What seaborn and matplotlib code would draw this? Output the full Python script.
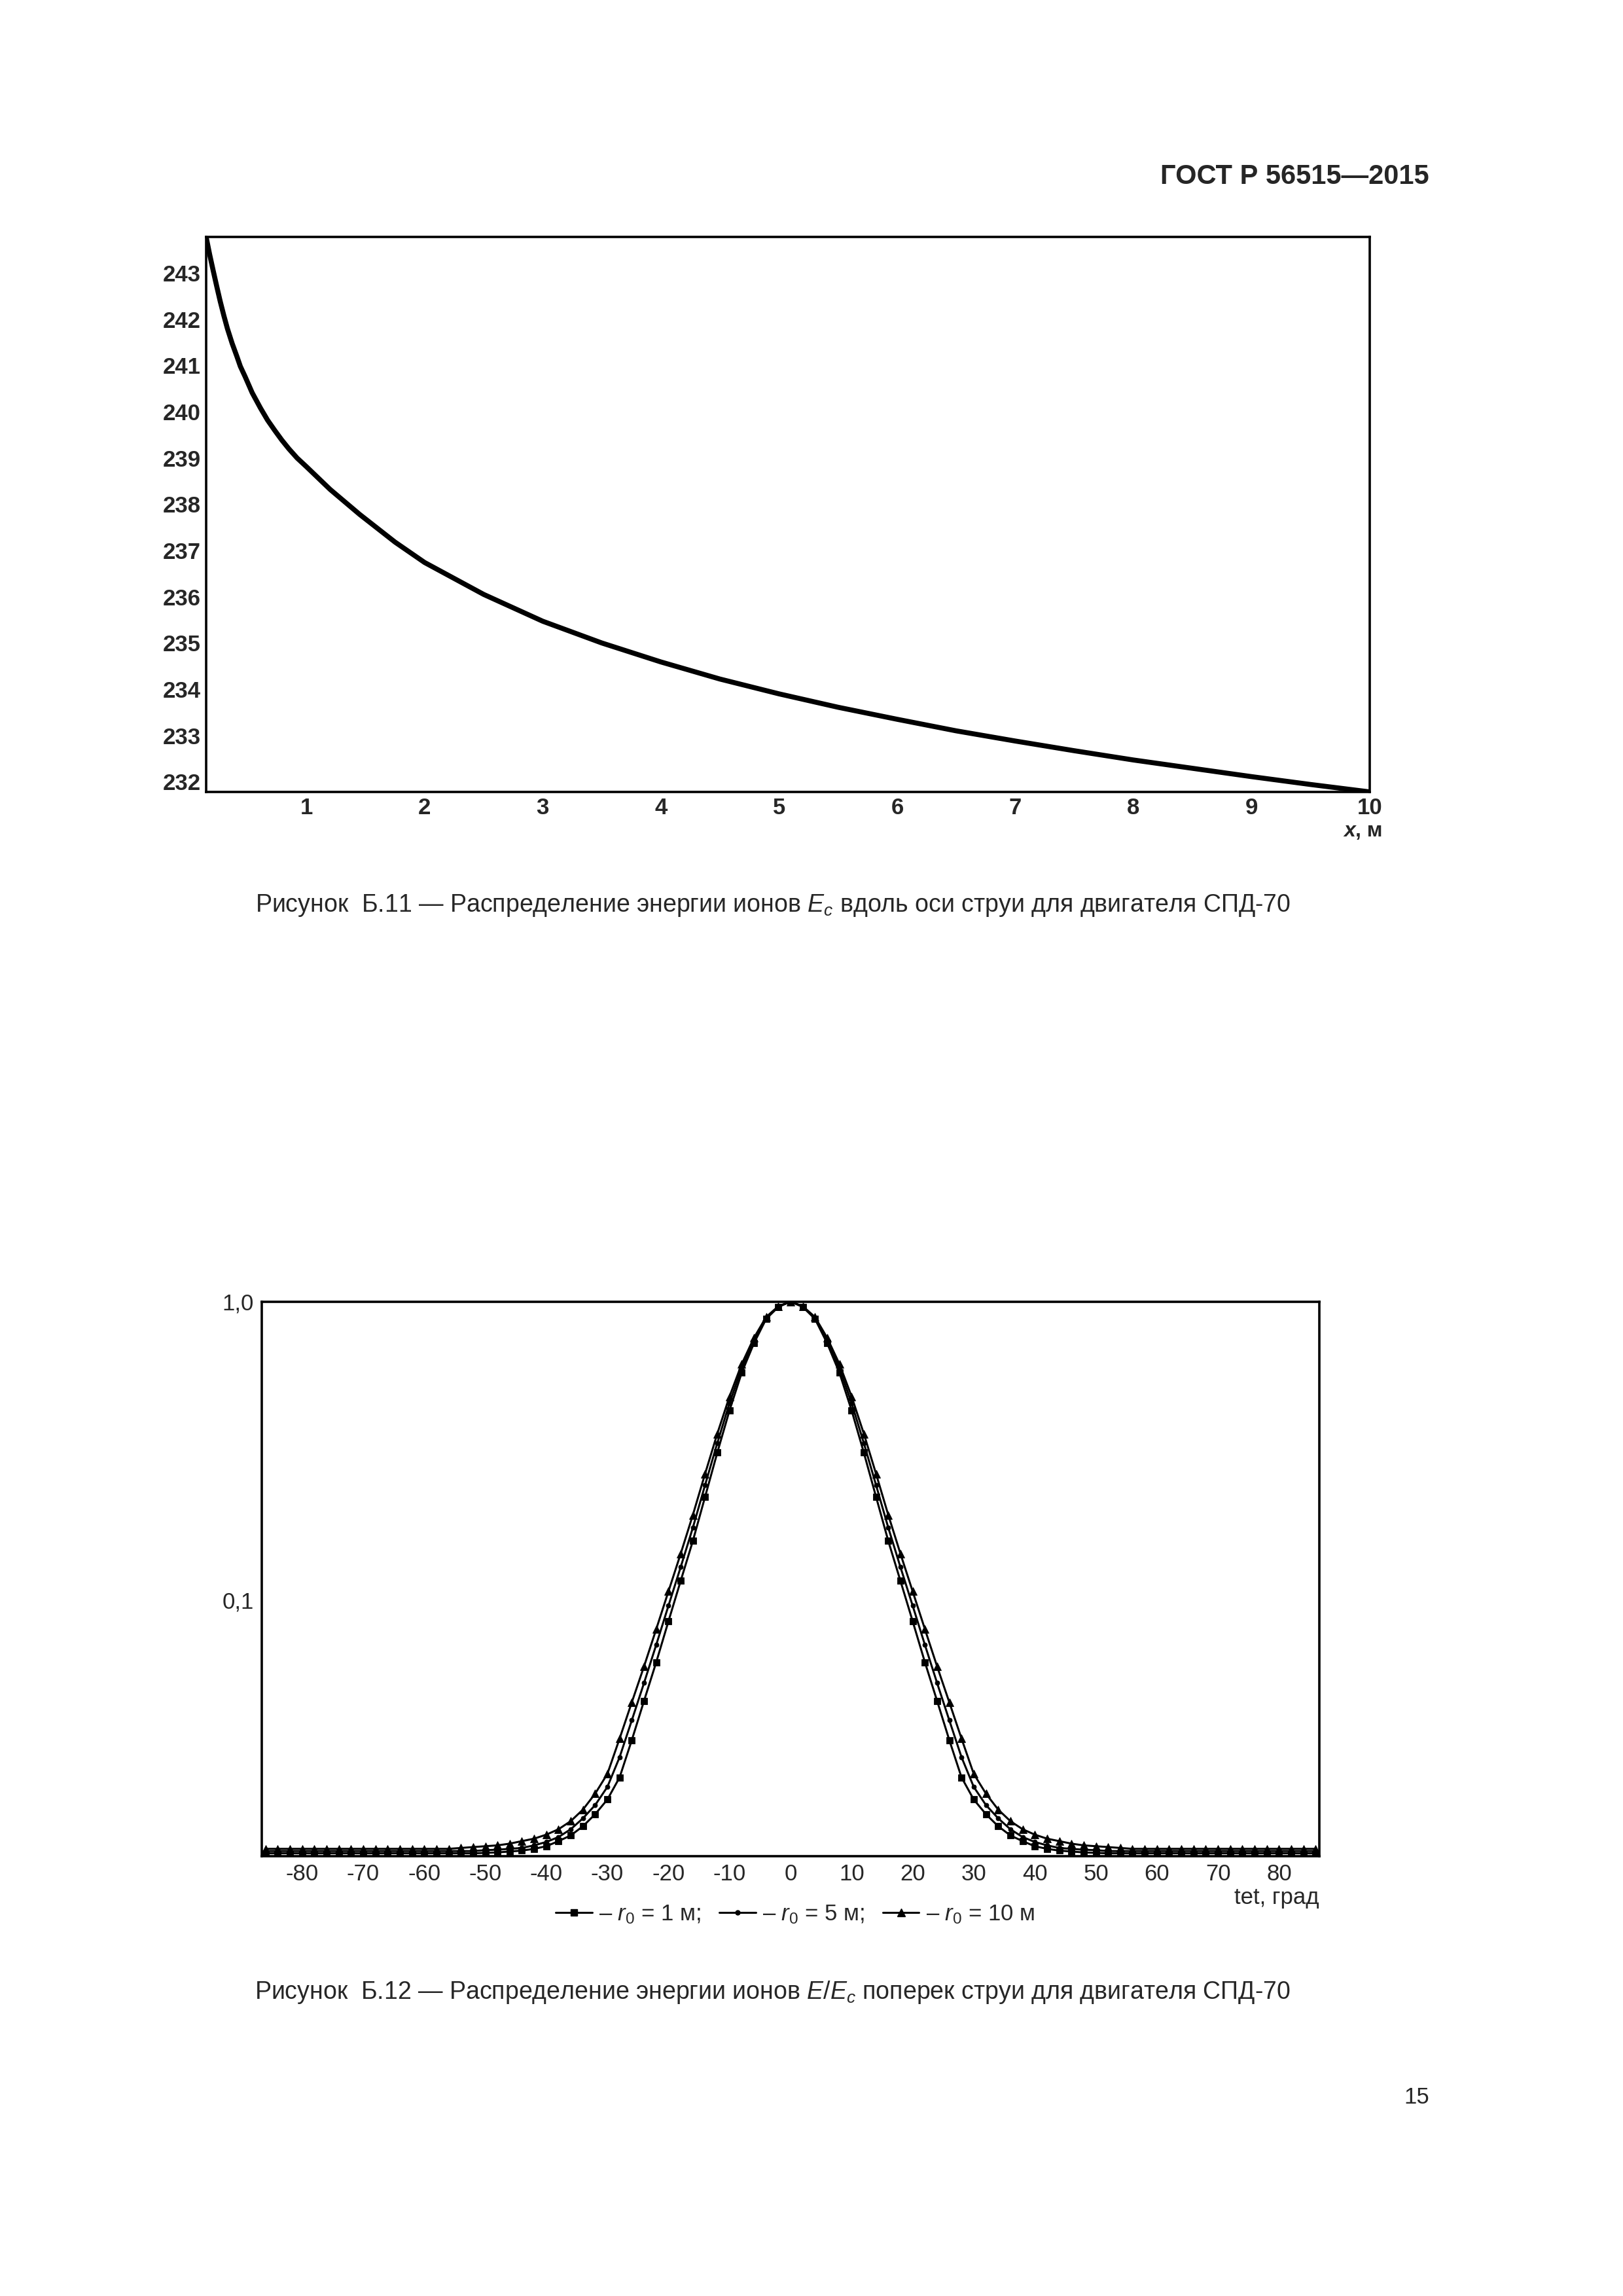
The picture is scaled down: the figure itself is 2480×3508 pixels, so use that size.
import matplotlib
matplotlib.use("Agg")
import numpy as np
import pandas as pd
import matplotlib.pyplot as plt
from matplotlib.lines import Line2D
from matplotlib.ticker import FixedLocator, FixedFormatter, NullLocator
import seaborn as sns

# Рисунок Б.11 - энергия ионов вдоль оси струи
x_m = [0.15, 0.18, 0.21, 0.24, 0.27, 0.30, 0.33, 0.37, 0.41, 0.44, 0.48, 0.54, 0.61, 0.67,
       0.73, 0.79, 0.85, 0.92, 1.0, 1.2, 1.45, 1.75, 2.0, 2.5, 3.0, 3.5, 4.0, 4.5, 5.0,
       5.5, 6.0, 6.5, 7.0, 7.5, 8.0, 8.5, 9.0, 9.5, 10.0]
energy = [243.78, 243.40, 243.05, 242.71, 242.38, 242.08, 241.80, 241.48, 241.20, 240.98,
          240.76, 240.41, 240.08, 239.82, 239.60, 239.39, 239.20, 239.00, 238.81, 238.32,
          237.78, 237.18, 236.74, 236.05, 235.47, 235.00, 234.59, 234.22, 233.90, 233.61,
          233.35, 233.10, 232.88, 232.67, 232.47, 232.29, 232.11, 231.94, 231.78]
energy_ticks = list(range(232, 244))
x_ticks = list(range(1, 11))

# Рисунок Б.12 - E/Ec поперек струи
tet = list(range(-86, 88, 2))
ratio_r1 = [0.0142] * 18 + [
    0.01425, 0.0143, 0.0144, 0.0145, 0.0147, 0.0150, 0.0156, 0.0163, 0.0175, 0.0192,
    0.0215, 0.0255, 0.034, 0.046, 0.062, 0.085, 0.116, 0.158, 0.222, 0.312, 0.432,
    0.578, 0.725, 0.875, 0.960, 1.000, 0.960, 0.875, 0.725, 0.578, 0.432, 0.312, 0.222,
    0.158, 0.116, 0.085, 0.062, 0.046, 0.034, 0.0255, 0.0215, 0.0192, 0.0175, 0.0163,
    0.0156, 0.0150, 0.0147, 0.0145, 0.0144, 0.0143, 0.01425] + [0.0142] * 18
ratio_r5 = [0.01445] * 18 + [
    0.01455, 0.0146, 0.0147, 0.0148, 0.0151, 0.0155, 0.0161, 0.0171, 0.0186, 0.0206,
    0.0237, 0.0298, 0.0396, 0.0528, 0.0709, 0.0958, 0.129, 0.175, 0.243, 0.336, 0.457,
    0.599, 0.741, 0.881, 0.962, 1.000, 0.962, 0.881, 0.741, 0.599, 0.457, 0.336, 0.243,
    0.175, 0.129, 0.0958, 0.0709, 0.0528, 0.0396, 0.0298, 0.0237, 0.0206, 0.0186, 0.0171,
    0.0161, 0.0155, 0.0151, 0.0148, 0.0147, 0.0146, 0.01455] + [0.01445] * 18
ratio_r10 = [0.0147] * 16 + [
    0.0148, 0.0149, 0.0150, 0.0151, 0.0153, 0.0156, 0.0159, 0.0164, 0.0171, 0.0182,
    0.0199, 0.0225, 0.0262, 0.0344, 0.0455, 0.060, 0.080, 0.107, 0.143, 0.193, 0.265,
    0.361, 0.481, 0.618, 0.756, 0.888, 0.965, 1.000, 0.965, 0.888, 0.756, 0.618, 0.481,
    0.361, 0.265, 0.193, 0.143, 0.107, 0.080, 0.060, 0.0455, 0.0344, 0.0262, 0.0225,
    0.0199, 0.0182, 0.0171, 0.0164, 0.0159, 0.0156, 0.0153, 0.0151, 0.0150, 0.0149,
    0.0148] + [0.0147] * 16
tet_ticks = list(range(-80, 90, 10))
ratio_ticks = [0.1, 1.0]
ratio_labels = ["0,1", "1,0"]
legend_labels = ["– $r_0$ = 1 м;", "– $r_0$ = 5 м;", "– $r_0$ = 10 м"]

sns.set_theme(style="white")
plt.rcParams["font.family"] = ["Liberation Sans", "DejaVu Sans"]
plt.rcParams["axes.unicode_minus"] = False
plt.rcParams["mathtext.fontset"] = "custom"
plt.rcParams["mathtext.rm"] = "Liberation Sans"
plt.rcParams["mathtext.it"] = "Liberation Sans:italic"

fig = plt.figure(figsize=(24.8, 35.08), dpi=100)

# --- верхний график ---
ax1 = fig.add_axes([0.1270, 0.6551, 0.7169, 0.2417])
sns.lineplot(x=x_m, y=energy, color="black", linewidth=5.5, ax=ax1)
ax1.set_xlim(x_m[0], x_m[-1])
ax1.set_ylim(min(energy), max(energy))
ax1.set_xticks(x_ticks)
ax1.set_yticks(energy_ticks)
ax1.tick_params(length=0, pad=6, labelsize=25)
for lab in ax1.get_xticklabels() + ax1.get_yticklabels():
    lab.set_fontweight("bold")
for sp in ax1.spines.values():
    sp.set_color("black")
    sp.set_linewidth(2.6)
ax1.set_xlabel("")
ax1.set_ylabel("")
# подпись оси "x, м": x - полужирный курсив
t_m = ax1.text(1.0112, -0.0802, ", м", transform=ax1.transAxes, ha="right",
               va="baseline", fontsize=23, fontweight="bold")
fig.canvas.draw()
w_pt = t_m.get_window_extent().width * 72 / fig.dpi
ax1.annotate("x", xy=(1.0112, -0.0802), xycoords="axes fraction",
             xytext=(-w_pt, 0), textcoords="offset points", ha="right", va="baseline",
             fontsize=23, fontweight="bold", fontstyle="italic")

# --- нижний график ---
ax2 = fig.add_axes([0.1613, 0.1916, 0.6516, 0.2415])
series = [(ratio_r1, "s", 7.5), (ratio_r5, "o", 5), (ratio_r10, "^", 8.5)]
for vals, mk, ms in series:
    sns.lineplot(x=tet, y=vals, color="black", linewidth=2.2, marker=mk, markersize=ms,
                 markeredgecolor="black", markeredgewidth=0.6, ax=ax2)
ax2.set_yscale("log")
ax2.set_xlim(-86.6, 86.6)
ax2.set_ylim(0.0139, 1.0)
ax2.xaxis.set_major_locator(FixedLocator(tet_ticks))
ax2.yaxis.set_major_locator(FixedLocator(ratio_ticks))
ax2.yaxis.set_major_formatter(FixedFormatter(ratio_labels))
ax2.yaxis.set_minor_locator(NullLocator())
ax2.tick_params(axis="both", which="both", length=0, labelsize=25)
ax2.tick_params(axis="y", pad=9)
ax2.tick_params(axis="x", pad=8)
for sp in ax2.spines.values():
    sp.set_color("black")
    sp.set_linewidth(2.6)
ax2.set_xlabel("")
ax2.set_ylabel("")
ax2.text(1.0, -0.0756, "tet, град", transform=ax2.transAxes, ha="right", va="center",
         fontsize=25)

handles = [Line2D([], [], color="black", lw=2.2, marker=mk, markersize=ms,
                  markeredgecolor="black") for _, mk, ms in series]
fig.legend(handles, legend_labels, loc="center", bbox_to_anchor=(0.490, 0.1662), ncol=3,
           frameon=False, fontsize=25, handlelength=1.6, handletextpad=0.3,
           columnspacing=0.8)

# --- тексты страницы ---
fig.text(0.8806, 0.9230, "ГОСТ Р 56515—2015", ha="right", va="center", fontsize=30,
         fontweight="bold")
fig.text(0.4762, 0.6055,
         "Рисунок  Б.11 — Распределение энергии ионов $E_c$ вдоль оси струи для двигателя СПД-70",
         ha="center", va="center", fontsize=27)
fig.text(0.4762, 0.1323,
         "Рисунок  Б.12 — Распределение энергии ионов $E/E_c$ поперек струи для двигателя СПД-70",
         ha="center", va="center", fontsize=27)
fig.text(0.8806, 0.0864, "15", ha="right", va="center", fontsize=25)

fig.savefig("out.png", dpi=100, facecolor="white")
